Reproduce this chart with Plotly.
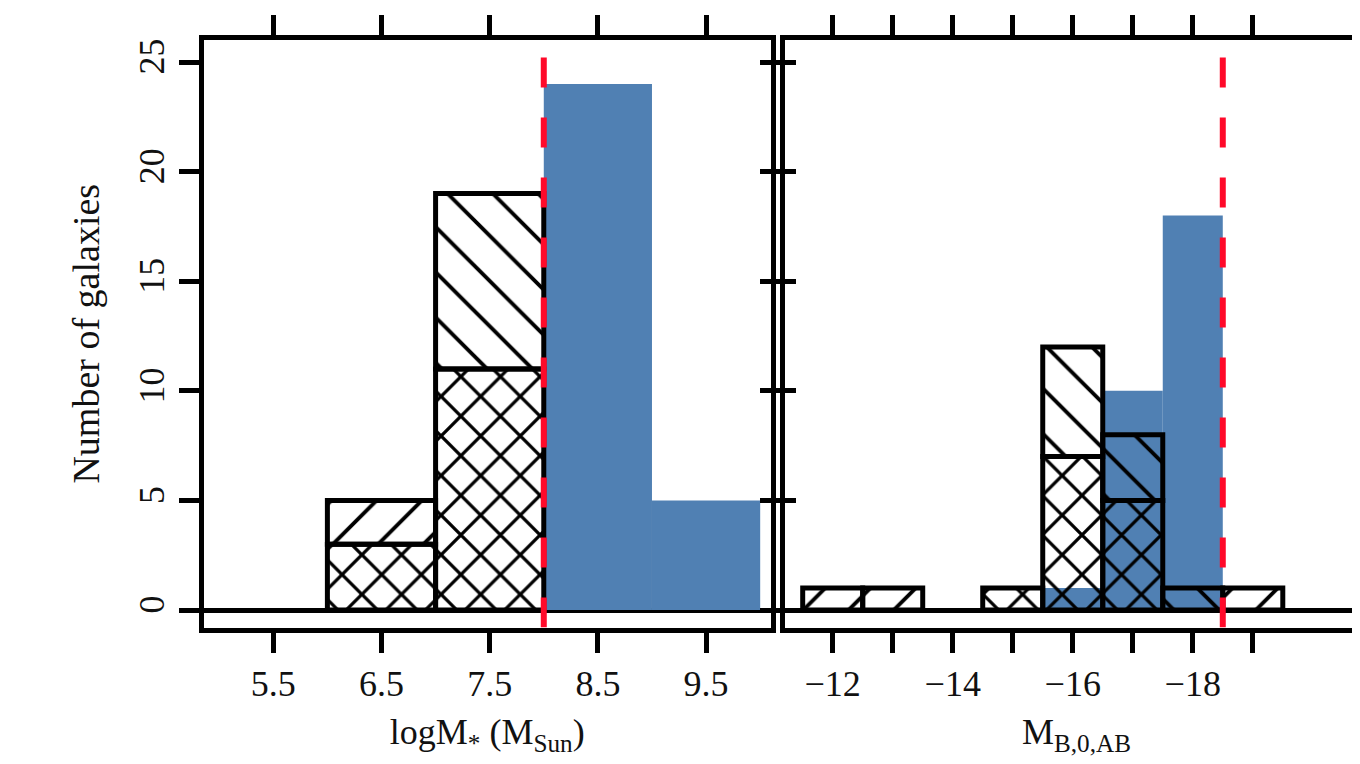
import plotly.graph_objects as go

# ---------------- data ----------------
mass_bins = [6.5, 7.5, 8.5, 9.5]            # bin centres, logM* (width 1)
mass_blue = [0, 0, 24, 5]                   # filled blue histogram
mass_cross = [3, 11, 0, 0]                  # cross-hatched part
mass_fwd = [2, 0, 0, 0]                     # "/" hatched part (stacked on cross)
mass_back = [0, 8, 0, 0]                    # "\" hatched part (stacked on cross)
mass_cut = 8.0

mag_bins = [-12, -13, -14, -15, -16, -17, -18, -19]
mag_blue = [0, 0, 0, 0, 1, 10, 18, 0]
mag_cross = [0, 0, 0, 1, 7, 5, 0, 0]
mag_fwd = [1, 1, 0, 0, 0, 0, 0, 1]
mag_back = [0, 0, 0, 0, 5, 3, 1, 0]
mag_cut = -18.5

mass_ticks = [5.5, 6.5, 7.5, 8.5, 9.5]
mag_ticks = [-12, -14, -16, -18]
mag_ticklabels = ["\u221212", "\u221214", "\u221216", "\u221218"]
mag_minor_ticks = [-13, -15, -17, -19]
y_ticks = [0, 5, 10, 15, 20, 25]

BLUE = "#5080b3"
RED = "#ff0a2a"
FONT = "Liberation Serif"

fig = go.Figure()


def nz(xs, ys, bases=None):
    out_x, out_y, out_b = [], [], []
    for i, (x, y) in enumerate(zip(xs, ys)):
        if y > 0:
            out_x.append(x)
            out_y.append(y)
            out_b.append(bases[i] if bases else 0)
    return out_x, out_y, out_b


def add_panel(xs, blue, cross, fwd, back, xa, ya):
    bx, by, bb = nz(xs, blue)
    fig.add_trace(go.Bar(x=bx, y=by, base=bb, width=1, xaxis=xa, yaxis=ya,
                         marker=dict(color=BLUE, line=dict(width=0)),
                         showlegend=False))
    for vals, shape, base, size, sol in [(cross, "x", None, 28, 0.22),
                                         (fwd, "/", cross, 32, 0.12),
                                         (back, "\\", cross, 32, 0.12)]:
        hx, hy, hb = nz(xs, vals, base)
        if not hx:
            continue
        fig.add_trace(go.Bar(
            x=hx, y=hy, base=hb, width=1, xaxis=xa, yaxis=ya, showlegend=False,
            marker=dict(color="rgba(0,0,0,0)",
                        line=dict(color="black", width=5),
                        pattern=dict(shape=shape, fgcolor="black",
                                     bgcolor="rgba(0,0,0,0)", size=size,
                                     solidity=sol, fillmode="replace"))))


add_panel(mass_bins, mass_blue, mass_cross, mass_fwd, mass_back, "x", "y")
add_panel(mag_bins, mag_blue, mag_cross, mag_fwd, mag_back, "x2", "y2")

yrange = [-0.798, 26.004]

# threshold lines
for cut, xr, yr in [(mass_cut, "x", "y"), (mag_cut, "x2", "y2")]:
    fig.add_shape(type="line", xref=xr, yref=yr, x0=cut, x1=cut, y0=yrange[0], y1=25.2,
                  line=dict(color=RED, width=6, dash="30px,30px"), layer="above")

W, H = 1360, 764
# plot-area edges in figure pixels (page has an 8px body offset)
L_left, L_right = 195.5, 763
R_left = 777
top, bot = 32, 619.5

axis_common = dict(showline=True, linecolor="black", linewidth=5, ticks="outside",
                   ticklen=20, tickwidth=5, tickcolor="black", showgrid=False,
                   tickfont=dict(family=FONT, size=36, color="#111"))

fig.update_layout(
    width=W, height=H, margin=dict(l=0, r=0, t=0, b=0),
    paper_bgcolor="white", plot_bgcolor="white", barmode="overlay",
    xaxis=dict(domain=[L_left / W, L_right / W], range=[4.855, 10.10],
               tickvals=mass_ticks, ticktext=[str(t) for t in mass_ticks],
               mirror="ticks", zeroline=False, anchor="y",
               title=dict(text="logM<sub>*</sub> (M<sub>Sun</sub>)",
                          font=dict(family=FONT, size=36, color="#111"), standoff=18),
               **axis_common),
    yaxis=dict(domain=[1 - bot / H, 1 - top / H], range=yrange, tickvals=y_ticks,
               tickangle=-90, mirror="ticks", anchor="x",
               zeroline=True, zerolinecolor="black", zerolinewidth=5,
               title=dict(text="Number of galaxies",
                          font=dict(family=FONT, size=38, color="#111"), standoff=22),
               **axis_common),
    xaxis2=dict(domain=[R_left / W, 1.0], range=[-11.205, -20.92],
                tickvals=mag_ticks, ticktext=mag_ticklabels,
                minor=dict(tickmode="array", tickvals=mag_minor_ticks, ticks="outside",
                           ticklen=20, tickwidth=5, tickcolor="black", showgrid=False),
                mirror="ticks", zeroline=False, anchor="y2",
                title=dict(text="M<sub>B,0,AB</sub>",
                           font=dict(family=FONT, size=36, color="#111"), standoff=18),
                **axis_common),
    yaxis2=dict(domain=[1 - bot / H, 1 - top / H], range=yrange, tickvals=y_ticks,
                showticklabels=False, mirror=False, anchor="x2",
                zeroline=True, zerolinecolor="black", zerolinewidth=5,
                **axis_common),
)

fig.write_html("out.html")
